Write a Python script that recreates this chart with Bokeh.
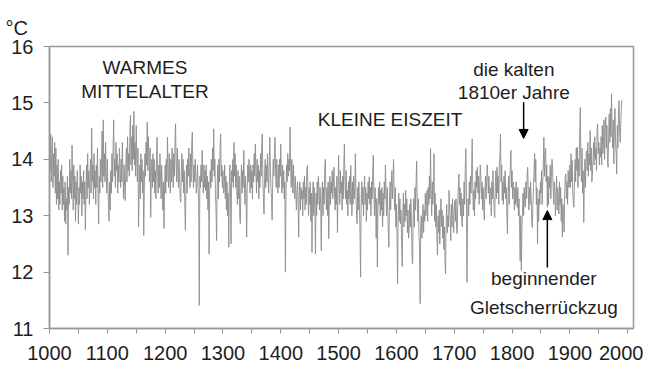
from bokeh.plotting import figure
from bokeh.models import FixedTicker, Label, Arrow, NormalHead, Range1d
from bokeh.embed import file_html
from bokeh.resources import INLINE

# Annual temperature values (°C), one list per century
t_1000s = [
    14.3, 13.8, 14.45, 13.6, 14.2, 14.4, 13.5, 14.1, 13.7, 14.3,
    13.4, 14.2, 13.2, 13.9, 13.3, 14.0, 13.1, 13.6, 13.2, 13.8,
    13.4, 13.9, 13.1, 13.7, 13.2, 13.5, 12.9, 13.6, 12.85, 13.3,
    13.1, 13.7, 12.3, 13.5, 13.2, 14.0, 13.4, 13.8, 13.3, 14.25,
    13.6, 13.1, 13.9, 13.3, 13.7, 12.9, 13.6, 13.2, 13.8, 13.4,
    12.85, 13.5, 13.2, 13.9, 13.4, 13.7, 13.0, 13.6, 13.3, 13.8,
    13.2, 13.6, 12.75, 13.4, 13.9, 13.3, 14.1, 13.5, 13.8, 13.2,
    13.7, 14.0, 13.4, 14.55, 13.6, 13.9, 13.3, 14.1, 13.5, 13.8,
    13.2, 13.9, 13.5, 14.2, 13.3, 12.85, 13.7, 13.4, 14.0, 13.6,
    13.9, 14.5, 13.5, 14.7, 13.7, 14.1, 13.6, 14.3, 13.8, 13.4,
]
t_1100s = [
    14.0, 13.5, 13.2, 12.9, 13.6, 13.1, 13.8, 13.4, 14.1, 13.6,
    14.2, 14.7, 13.7, 14.0, 13.5, 14.3, 13.8, 14.1, 13.4, 13.9,
    13.6, 14.2, 13.8, 13.5, 14.0, 13.6, 14.3, 13.8, 13.3, 13.9,
    13.5, 13.27, 13.9, 14.2, 13.6, 14.4, 13.8, 14.1, 13.7, 14.5,
    14.78, 13.9, 14.4, 13.8, 14.6, 14.0, 14.85, 13.9, 14.3, 13.7,
    14.6, 14.0, 13.6, 14.2, 12.8, 13.5, 13.9, 13.3, 14.1, 13.6,
    14.0, 13.4, 13.8, 12.65, 13.5, 14.1, 13.7, 14.3, 13.9, 14.66,
    13.8, 14.4, 14.0, 13.6, 14.2, 12.97, 13.7, 14.0, 13.5, 14.1,
    13.6, 14.0, 13.4, 13.8, 13.3, 14.0, 14.39, 13.7, 13.4, 13.9,
    13.5, 14.1, 13.7, 13.3, 13.9, 13.5, 13.1, 13.6, 12.77, 13.5,
]
t_1200s = [
    13.9, 13.4, 14.0, 13.6, 14.39, 13.8, 13.5, 14.1, 13.7, 13.4,
    14.0, 13.6, 14.2, 13.8, 13.5, 14.1, 13.7, 14.3, 14.63, 13.9,
    13.6, 14.2, 13.8, 13.5, 14.0, 13.7, 13.3, 13.24, 13.8, 14.1,
    13.6, 14.0, 13.4, 13.8, 13.2, 12.74, 13.5, 13.9, 13.4, 14.0,
    13.7, 14.2, 13.8, 13.5, 14.1, 13.6, 14.3, 14.48, 13.8, 13.5,
    13.9, 13.6, 14.0, 13.7, 13.4, 13.6, 13.9, 13.5, 13.2, 11.41,
    13.7, 13.5, 13.9, 13.6, 14.16, 13.7, 13.4, 13.9, 13.5, 13.8,
    13.45, 13.9, 13.3, 13.7, 13.1, 13.6, 12.32, 13.4, 13.8, 13.5,
    14.0, 13.6, 14.2, 13.8, 14.54, 13.7, 14.0, 13.4, 13.1, 12.56,
    13.5, 13.9, 13.3, 14.0, 13.6, 14.2, 14.45, 13.7, 13.9, 13.5,
]
t_1300s = [
    13.8, 13.4, 13.45, 13.9, 13.3, 13.7, 13.1, 13.6, 13.0, 13.4,
    12.44, 13.5, 13.9, 13.4, 12.5, 13.8, 13.6, 14.0, 13.5, 14.3,
    13.7, 14.1, 13.5, 13.9, 13.4, 13.2, 13.8, 13.3, 13.7, 13.0,
    12.86, 13.5, 13.9, 13.4, 13.8, 13.5, 14.16, 13.6, 13.2, 13.7,
    13.3, 12.62, 13.5, 13.9, 13.6, 14.0, 13.7, 13.4, 13.9, 13.5,
    13.8, 13.3, 13.9, 13.6, 14.1, 13.7, 14.27, 13.8, 13.4, 14.0,
    13.6, 13.9, 13.3, 13.8, 13.5, 14.1, 13.7, 14.2, 14.45, 13.6,
    13.3, 13.03, 13.7, 14.0, 13.5, 13.9, 13.6, 14.1, 13.7, 13.4,
    13.9, 14.39, 13.8, 13.5, 13.3, 12.92, 13.6, 14.0, 13.7, 14.1,
    14.39, 13.8, 13.5, 14.0, 13.6, 13.4, 13.9, 13.5, 14.0, 13.7,
]
t_1400s = [
    14.27, 13.7, 13.4, 13.9, 13.5, 13.8, 13.3, 13.6, 12.0, 13.4,
    13.9, 13.6, 14.1, 13.7, 14.0, 13.8, 14.57, 13.9, 13.5, 14.0,
    13.8, 13.4, 13.9, 13.5, 13.3, 13.7, 13.4, 13.1, 13.45, 13.6,
    13.2, 12.62, 13.4, 13.6, 13.1, 13.5, 13.3, 13.45, 13.0, 13.6,
    13.3, 13.7, 13.1, 13.5, 13.2, 13.8, 13.89, 13.4, 13.0, 13.5,
    13.2, 13.6, 12.9, 13.4, 12.35, 13.3, 13.6, 13.0, 13.5, 13.1,
    12.32, 13.4, 13.0, 13.6, 13.2, 13.7, 13.45, 13.1, 13.5, 13.2,
    12.38, 13.3, 13.6, 13.0, 13.5, 13.2, 13.8, 14.0, 13.4, 13.1,
    13.5, 13.0, 13.6, 12.59, 13.3, 13.7, 13.2, 13.6, 13.4, 13.8,
    13.3, 13.6, 13.86, 13.4, 13.1, 13.5, 13.2, 13.7, 12.7, 13.4,
]
t_1500s = [
    14.07, 13.5, 13.2, 13.8, 13.4, 13.6, 13.1, 13.7, 13.3, 13.9,
    14.27, 13.6, 13.3, 13.8, 13.2, 13.45, 13.0, 13.6, 13.3, 13.7,
    13.2, 13.89, 13.4, 13.0, 13.6, 13.2, 13.7, 13.3, 13.5, 14.1,
    13.4, 13.0, 12.86, 13.5, 13.1, 13.6, 13.2, 12.7, 11.91, 13.3,
    13.6, 13.2, 13.5, 13.0, 13.45, 13.7, 13.2, 13.5, 12.9, 13.4,
    13.1, 13.6, 13.3, 13.69, 13.2, 13.5, 13.0, 13.6, 13.3, 13.8,
    14.07, 13.4, 13.0, 13.5, 13.2, 12.6, 13.3, 12.09, 13.1, 13.5,
    13.2, 13.6, 13.0, 13.45, 13.1, 13.5, 12.8, 13.4, 13.0, 13.6,
    13.3, 13.9, 13.4, 13.0, 13.5, 13.1, 12.7, 12.44, 13.2, 13.6,
    13.1, 13.5, 13.8, 13.3, 13.6, 14.0, 13.4, 13.1, 13.5, 12.8,
]
t_1600s = [
    13.2, 12.6, 11.79, 13.0, 13.4, 12.9, 13.3, 12.86, 13.1, 12.5,
    12.1, 13.0, 13.4, 12.8, 13.2, 12.9, 13.45, 13.0, 13.3, 12.7,
    13.1, 12.6, 12.74, 13.2, 12.8, 13.3, 12.9, 12.3, 12.15, 13.0,
    13.3, 12.8, 13.5, 13.1, 13.6, 13.97, 13.2, 12.9, 13.3, 12.7,
    12.4, 11.44, 12.8, 13.0, 12.6, 12.86, 13.2, 12.7, 13.1, 12.9,
    13.4, 13.0, 13.3, 13.45, 12.9, 13.5, 13.2, 13.7, 13.3, 14.19,
    13.4, 13.0, 13.6, 13.2, 13.5, 14.1, 12.9, 13.4, 12.8, 13.2,
    12.6, 12.3, 13.0, 12.7, 13.1, 12.5, 12.97, 13.3, 12.8, 13.1,
    12.6, 13.0, 12.4, 12.8, 12.2, 11.97, 12.9, 13.2, 12.7, 13.0,
    12.8, 13.45, 13.1, 12.9, 12.56, 13.2, 12.8, 13.3, 13.0, 12.7,
]
t_1700s = [
    13.1, 13.27, 12.9, 13.3, 12.8, 12.68, 13.2, 13.5, 13.74, 13.2,
    13.5, 13.0, 13.4, 12.9, 12.8, 13.3, 13.0, 13.6, 13.2, 13.8,
    14.19, 13.5, 11.82, 12.9, 13.3, 13.0, 13.6, 13.2, 13.7, 13.4,
    13.8, 14.36, 13.5, 13.1, 13.45, 13.0, 13.6, 13.3, 13.8, 13.5,
    13.86, 13.4, 13.7, 13.2, 13.5, 13.9, 13.68, 13.3, 13.6, 13.1,
    13.5, 13.2, 12.92, 13.4, 13.7, 13.3, 13.6, 13.9, 13.68, 13.4,
    13.7, 13.2, 13.5, 13.45, 13.0, 13.6, 13.3, 13.8, 13.4, 13.1,
    12.97, 13.5, 13.8, 13.3, 13.86, 13.4, 13.7, 13.2, 13.9, 14.1,
    14.45, 13.6, 13.9, 13.27, 13.6, 13.2, 13.7, 13.4, 13.8, 13.3,
    13.5, 13.0, 12.68, 13.4, 13.7, 13.2, 13.6, 13.9, 14.16, 13.5,
]
t_1800s = [
    13.8, 13.3, 13.6, 13.45, 13.1, 13.5, 13.2, 13.6, 13.3, 13.15,
    13.5, 13.0, 13.3, 12.8, 12.2, 13.0, 12.03, 12.7, 13.1, 13.4,
    13.0, 13.5, 13.2, 13.15, 13.6, 13.3, 13.7, 13.86, 13.4, 13.1,
    13.5, 13.2, 13.6, 13.3, 12.9, 12.79, 13.2, 13.5, 13.8, 14.1,
    13.6, 14.0, 13.2, 13.5, 12.5, 13.3, 12.9, 13.45, 13.2, 13.6,
    13.4, 13.8, 13.2, 13.6, 13.9, 14.39, 13.7, 14.1, 14.2, 13.6,
    13.9, 13.15, 13.7, 13.2, 13.68, 13.5, 13.9, 13.3, 13.7, 14.0,
    13.86, 13.5, 13.2, 13.6, 13.45, 13.0, 13.4, 13.7, 13.1, 13.5,
    13.3, 13.03, 13.6, 13.2, 13.5, 12.9, 13.3, 12.62, 13.2, 13.0,
    12.71, 13.4, 13.7, 13.74, 13.3, 13.6, 13.2, 13.8, 13.5, 13.51,
]
t_1900s = [
    13.9, 13.5, 14.1, 13.6, 13.98, 13.4, 13.2, 13.15, 13.7, 14.0,
    13.6, 14.2, 13.8, 14.22, 13.5, 14.0, 13.7, 14.5, 14.92, 13.9,
    13.6, 14.2, 13.4, 13.8, 12.88, 13.6, 14.0, 13.5, 14.1, 14.15,
    13.8, 14.3, 13.7, 14.1, 13.9, 14.51, 13.8, 14.2, 13.6, 13.74,
    14.0, 14.3, 13.9, 14.4, 14.0, 14.2, 13.8, 14.5, 14.63, 14.1,
    14.3, 13.9, 14.2, 14.04, 14.4, 13.9, 14.6, 14.1, 14.3, 14.7,
    14.0, 14.5, 14.75, 14.2, 14.6, 14.0, 13.86, 14.4, 14.8, 14.3,
    14.9, 14.4, 15.16, 14.5, 14.2, 14.7, 13.92, 14.6, 14.9, 14.3,
    14.1, 13.74, 14.6, 14.2, 14.8, 15.04, 14.5, 14.3, 14.62, 14.9,
    15.05,
]

start_year = 1000
x_ticks = [1000, 1100, 1200, 1300, 1400, 1500, 1600, 1700, 1800, 1900, 2000]
x_minor = [1050, 1150, 1250, 1350, 1450, 1550, 1650, 1750, 1850, 1950]
y_ticks = [11, 12, 13, 14, 15, 16]

temps = (t_1000s + t_1100s + t_1200s + t_1300s + t_1400s +
         t_1500s + t_1600s + t_1700s + t_1800s + t_1900s)
years = list(range(start_year, start_year + len(temps)))

FONT = "Liberation Sans"
TXT = "#1e1e1e"
GRAY = "#999999"

p = figure(width=643, height=368, x_range=Range1d(1000, 2010), y_range=Range1d(11, 16),
           output_backend="svg", toolbar_location=None,
           min_border_left=49, min_border_right=10, min_border_top=46, min_border_bottom=40)
p.background_fill_color = "white"
p.border_fill_color = "white"
p.outline_line_color = GRAY
p.outline_line_width = 1.5
p.xgrid.grid_line_color = None
p.ygrid.grid_line_color = None

# "°C" unit label at the top-left, drawn as the (left-aligned) title
p.title.text = "°C"
p.title.align = "left"
p.title.offset = -44
p.title.standoff = 16
p.title.text_font = FONT
p.title.text_font_size = "20px"
p.title.text_font_style = "normal"
p.title.text_color = TXT

p.line(years, temps, line_color="#8c8c8c", line_width=0.9)

xa = p.xaxis[0]
xa.ticker = FixedTicker(ticks=x_ticks, minor_ticks=x_minor)
xa.axis_line_color = GRAY
xa.axis_line_width = 1.5
xa.major_tick_line_color = GRAY
xa.minor_tick_line_color = GRAY
xa.major_tick_out = 5
xa.major_tick_in = 0
xa.minor_tick_out = 5
xa.minor_tick_in = 0
xa.major_label_standoff = 12
xa.major_label_text_font = FONT
xa.major_label_text_font_size = "20px"
xa.major_label_text_color = TXT

ya = p.yaxis[0]
ya.ticker = FixedTicker(ticks=y_ticks)
ya.axis_line_color = GRAY
ya.axis_line_width = 1.5
ya.major_tick_line_color = GRAY
ya.minor_tick_line_color = None
ya.major_tick_out = 6
ya.major_tick_in = 0
ya.major_label_standoff = 10
ya.major_label_text_font = FONT
ya.major_label_text_font_size = "20px"
ya.major_label_text_color = TXT

def add_text(x, y, s, align="center", size="19px"):
    p.add_layout(Label(x=x, y=y, text=s, text_font=FONT, text_font_size=size,
                       text_color=TXT, text_align=align, text_baseline="middle"))

add_text(1165, 15.63, "WARMES")
add_text(1165, 15.20, "MITTELALTER")
add_text(1589, 14.71, "KLEINE EISZEIT")
add_text(1803, 15.60, "die kalten")
add_text(1803, 15.18, "1810er Jahre")
add_text(1855, 11.88, "beginnender")
add_text(1855, 11.37, "Gletscherrückzug")

p.add_layout(Arrow(end=NormalHead(size=9, fill_color="black", line_color="black"),
                   x_start=1820, y_start=15.01, x_end=1820, y_end=14.37,
                   line_color="black", line_width=1.5))
p.add_layout(Arrow(end=NormalHead(size=9, fill_color="black", line_color="black"),
                   x_start=1861, y_start=12.08, x_end=1861, y_end=13.09,
                   line_color="black", line_width=1.5))

open("out.html", "w").write(file_html(p, INLINE))
